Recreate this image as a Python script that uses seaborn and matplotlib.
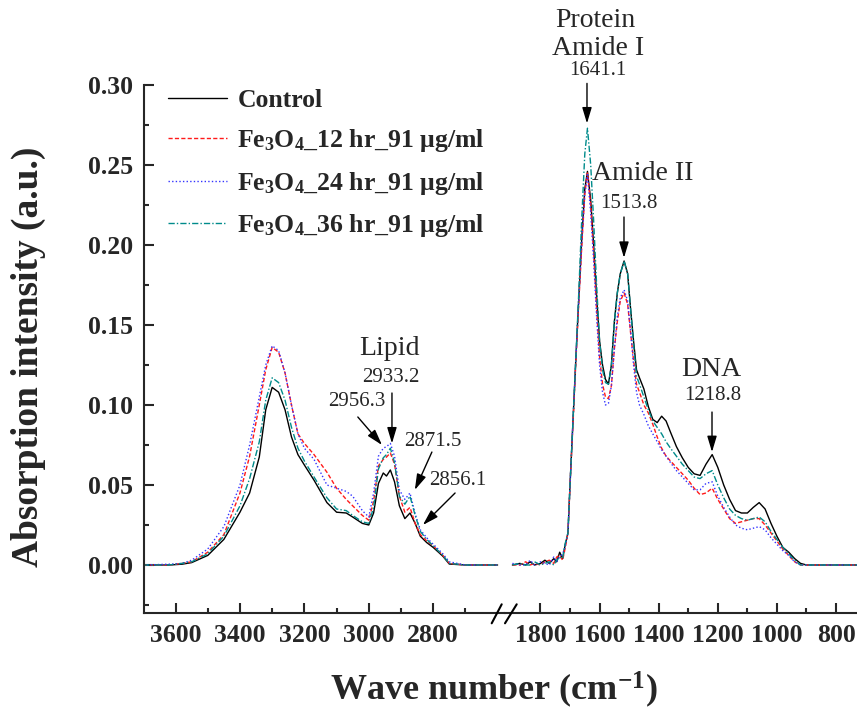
import pandas as pd
import seaborn as sns
import matplotlib.pyplot as plt
from matplotlib.lines import Line2D

# Data: FTIR spectra, two wavenumber windows (high / low region)
samples = ['Control', 'Fe3O4 12 hr', 'Fe3O4 24 hr', 'Fe3O4 36 hr']
legend_labels = ['Control',
                 'Fe$_{3}$O$_{4}$_12 hr_91 \u03bcg/ml',
                 'Fe$_{3}$O$_{4}$_24 hr_91 \u03bcg/ml',
                 'Fe$_{3}$O$_{4}$_36 hr_91 \u03bcg/ml']

wn_left = [3700, 3620, 3580, 3550, 3500, 3450, 3400, 3370, 3340, 3320,
           3300, 3280, 3260, 3240, 3220, 3200, 3170, 3130, 3100, 3070,
           3050, 3020, 3000, 2985, 2970, 2955, 2945, 2933, 2920, 2905,
           2888, 2872, 2856, 2840, 2820, 2800, 2770, 2750, 2700, 2600]
ctrl_left = [0, 0, 0.0005, 0.0015, 0.006, 0.016, 0.033, 0.045, 0.0675, 0.097,
             0.111, 0.108, 0.097, 0.080, 0.069, 0.0625, 0.053, 0.039, 0.033, 0.0325,
             0.030, 0.026, 0.025, 0.0325, 0.051, 0.0575, 0.0556, 0.0594, 0.052, 0.037,
             0.029, 0.0325, 0.026, 0.018, 0.014, 0.011, 0.0055, 0.0006, 0, 0]
fe12_left = [0, 0, 0.001, 0.002, 0.008, 0.019, 0.045, 0.068, 0.100, 0.122,
             0.136, 0.133, 0.120, 0.100, 0.082, 0.076, 0.069, 0.058, 0.048, 0.041,
             0.037, 0.031, 0.028, 0.040, 0.062, 0.066, 0.0675, 0.070, 0.063, 0.043,
             0.033, 0.036, 0.026, 0.019, 0.015, 0.012, 0.006, 0.001, 0, 0]
fe24_left = [0, 0.0005, 0.001, 0.003, 0.010, 0.024, 0.050, 0.075, 0.105, 0.125,
             0.137, 0.134, 0.120, 0.100, 0.082, 0.073, 0.066, 0.050, 0.048, 0.046,
             0.043, 0.034, 0.030, 0.045, 0.068, 0.073, 0.074, 0.076, 0.068, 0.047,
             0.041, 0.045, 0.032, 0.022, 0.017, 0.013, 0.007, 0.002, 0, 0]
fe36_left = [0, 0, 0.001, 0.002, 0.007, 0.018, 0.037, 0.054, 0.077, 0.103,
             0.117, 0.114, 0.103, 0.086, 0.073, 0.065, 0.055, 0.042, 0.035, 0.034,
             0.031, 0.027, 0.026, 0.036, 0.060, 0.067, 0.069, 0.073, 0.064, 0.043,
             0.038, 0.043, 0.031, 0.021, 0.016, 0.012, 0.006, 0.001, 0, 0]

wn_right = [1895, 1870, 1850, 1835, 1820, 1800, 1785, 1770, 1755, 1745,
            1735, 1725, 1717, 1707, 1700, 1690, 1680, 1670, 1660, 1650,
            1641, 1630, 1620, 1610, 1600, 1590, 1580, 1570, 1560, 1550,
            1540, 1530, 1517, 1505, 1495, 1485, 1475, 1465, 1450, 1435,
            1420, 1405, 1390, 1375, 1360, 1340, 1320, 1300, 1280, 1260,
            1240, 1219, 1200, 1180, 1160, 1140, 1120, 1100, 1080, 1060,
            1040, 1020, 1000, 980, 960, 940, 920, 900, 850, 730]
ctrl_right = [0, 0.001, 0, 0.002, 0, 0.001, 0.003, 0.001, 0.004, 0.002,
              0.008, 0.004, 0.012, 0.02, 0.05, 0.09, 0.13, 0.168, 0.205, 0.235,
              0.246, 0.228, 0.2, 0.168, 0.14, 0.125, 0.116, 0.113, 0.125, 0.152,
              0.17, 0.182, 0.19, 0.182, 0.16, 0.14, 0.122, 0.117, 0.11, 0.099,
              0.091, 0.089, 0.093, 0.09, 0.083, 0.074, 0.067, 0.061, 0.057, 0.056,
              0.063, 0.069, 0.061, 0.05, 0.041, 0.034, 0.0325, 0.0325, 0.036, 0.039,
              0.035, 0.026, 0.018, 0.011, 0.008, 0.004, 0.001, 0, 0, 0]
fe12_right = [0, 0, 0.002, 0, 0.001, 0, 0.002, 0.003, 0.001, 0.005,
              0.006, 0.003, 0.010, 0.02, 0.05, 0.088, 0.128, 0.165, 0.2, 0.232,
              0.245, 0.225, 0.195, 0.16, 0.13, 0.113, 0.105, 0.104, 0.112, 0.135,
              0.152, 0.165, 0.17, 0.163, 0.145, 0.128, 0.113, 0.108, 0.100, 0.095,
              0.088, 0.080, 0.073, 0.068, 0.065, 0.061, 0.057, 0.053, 0.048, 0.044,
              0.045, 0.048, 0.041, 0.035, 0.029, 0.026, 0.027, 0.028, 0.029, 0.029,
              0.025, 0.020, 0.015, 0.010, 0.006, 0.002, 0, 0, 0, 0]
fe24_right = [0.001, 0, 0, 0.003, 0, 0.002, 0.001, 0, 0.005, 0.002,
              0.005, 0.007, 0.011, 0.02, 0.05, 0.09, 0.13, 0.167, 0.203, 0.232,
              0.244, 0.22, 0.19, 0.155, 0.125, 0.108, 0.100, 0.101, 0.112, 0.135,
              0.155, 0.167, 0.172, 0.165, 0.146, 0.125, 0.108, 0.100, 0.094, 0.087,
              0.082, 0.077, 0.072, 0.068, 0.064, 0.059, 0.055, 0.051, 0.047, 0.047,
              0.051, 0.052, 0.043, 0.036, 0.030, 0.025, 0.023, 0.022, 0.023, 0.024,
              0.022, 0.017, 0.013, 0.009, 0.006, 0.002, 0, 0, 0, 0]
fe36_right = [0, 0.001, 0, 0, 0.002, 0, 0.001, 0.002, 0, 0.003,
              0.005, 0.004, 0.013, 0.02, 0.05, 0.09, 0.13, 0.172, 0.218, 0.257,
              0.273, 0.25, 0.215, 0.175, 0.14, 0.122, 0.114, 0.113, 0.125, 0.152,
              0.17, 0.182, 0.19, 0.182, 0.16, 0.138, 0.118, 0.113, 0.105, 0.097,
              0.090, 0.086, 0.082, 0.077, 0.073, 0.068, 0.063, 0.059, 0.055, 0.054,
              0.057, 0.059, 0.050, 0.042, 0.035, 0.031, 0.029, 0.028, 0.029, 0.030,
              0.027, 0.021, 0.016, 0.011, 0.007, 0.003, 0, 0, 0, 0]

left_ticks = [3600, 3400, 3200, 3000, 2800]
right_ticks = [1800, 1600, 1400, 1200, 1000, 800]
y_ticks = [0.00, 0.05, 0.10, 0.15, 0.20, 0.25, 0.30]


def long_form(wn, series):
    frames = [pd.DataFrame({'wn': wn, 'absorb': vals, 'sample': name})
              for name, vals in zip(samples, series)]
    return pd.concat(frames, ignore_index=True)


df_left = long_form(wn_left, [ctrl_left, fe12_left, fe24_left, fe36_left])
df_right = long_form(wn_right, [ctrl_right, fe12_right, fe24_right, fe36_right])

# Styling
sns.set_style('ticks')
plt.rcParams['font.family'] = ['Liberation Serif', 'DejaVu Serif']
plt.rcParams['font.weight'] = 'bold'
plt.rcParams['mathtext.fontset'] = 'custom'
plt.rcParams['mathtext.rm'] = 'Liberation Serif:bold'
plt.rcParams['mathtext.it'] = 'Liberation Serif:italic:bold'
plt.rcParams['mathtext.bf'] = 'Liberation Serif:bold'

palette = {'Control': 'black', 'Fe3O4 12 hr': '#ff1a1a',
           'Fe3O4 24 hr': '#3333ff', 'Fe3O4 36 hr': '#008b8b'}
dashes = {'Control': '', 'Fe3O4 12 hr': (3, 1.6),
          'Fe3O4 24 hr': (1, 1.6), 'Fe3O4 36 hr': (4.5, 1.5, 1, 1.5)}

fig = plt.figure(figsize=(8.57, 7.15), dpi=100)
W, H = 857, 715
ax_l = fig.add_axes([144 / W, 1 - 613 / H, (505 - 144) / W, (613 - 85) / H])
ax_r = fig.add_axes([505 / W, 1 - 613 / H, (857 - 505) / W, (613 - 85) / H],
                    sharey=ax_l)

for ax, df in [(ax_l, df_left), (ax_r, df_right)]:
    sns.lineplot(data=df, x='wn', y='absorb', hue='sample', style='sample',
                 hue_order=samples, style_order=samples, palette=palette,
                 dashes=dashes, estimator=None, sort=False, legend=False,
                 lw=1.0, ax=ax)
    ax.set_xlabel('')
    ax.set_ylabel('')
    for side in ['top', 'right', 'left', 'bottom']:
        ax.spines[side].set_linewidth(1.5)
    ax.spines['top'].set_visible(False)
    ax.spines['right'].set_visible(False)
    ax.tick_params(which='both', direction='in', width=1.5, labelsize=18.5, pad=8)
    ax.tick_params(which='major', length=7.5)
    ax.tick_params(which='minor', length=3.5)

ax_l.set_xlim(3698, 2577)
ax_r.set_xlim(1920, 729)
ax_l.set_ylim(-0.03, 0.30)
ax_l.set_xticks(left_ticks)
ax_l.set_xticks([t - 100 for t in left_ticks], minor=True)
ax_r.set_xticks(right_ticks)
ax_r.set_xticks([t + 100 for t in right_ticks[1:]], minor=True)
ax_l.set_yticks(y_ticks)
ax_l.set_yticks([t - 0.025 for t in y_ticks], minor=True)
ax_l.set_yticklabels(['%.2f' % t for t in y_ticks])
ax_r.spines['left'].set_visible(False)
ax_r.tick_params(axis='y', which='both', left=False, labelleft=False)

# Axis titles
fig.text(28 / W, 1 - 357 / H, 'Absorption intensity (a.u.)', rotation=90,
         ha='center', va='center', fontsize=27, fontweight='bold')
fig.text(494 / W, 1 - 690 / H, 'Wave number (cm$^{-1}$)',
         ha='center', va='center', fontsize=26, fontweight='bold')

# Axis break marks
for x0, x1 in [(491.7, 501.7), (505, 516.7)]:
    fig.add_artist(Line2D([x0 / W, x1 / W], [1 - 623.3 / H, 1 - 604.3 / H],
                          color='black', lw=1.5))

# Legend
handles = ax_l.get_lines()[:4]
ax_l.legend(handles, legend_labels, loc='upper left',
            bbox_to_anchor=(168 / W, 1 - 89 / H), bbox_transform=fig.transFigure,
            frameon=False, fontsize=18.5, handlelength=2.3, handletextpad=0.4,
            labelspacing=0.6, borderpad=0, borderaxespad=0)

# Peak annotations
arrow_kw = dict(arrowstyle='-|>,head_length=0.6,head_width=0.18', color='black',
                lw=1.0, shrinkA=0, shrinkB=0, mutation_scale=16)
big = dict(fontsize=20, fontweight='normal', ha='center', va='center')
small = dict(fontsize=15, fontweight='normal', ha='center', va='center')

ax_r.text(1615, 0.3406, 'Protein', **big)
ax_r.text(1605, 0.323, 'Amide I', **big)
ax_r.text(1605, 0.309, '1641.1', **small)
ax_r.annotate('', xy=(1642.6, 0.276), xytext=(1642.6, 0.301),
              arrowprops=arrow_kw, annotation_clip=False)
ax_r.text(1453, 0.245, 'Amide II', **big)
ax_r.text(1500, 0.226, '1513.8', **small)
ax_r.annotate('', xy=(1517.4, 0.192), xytext=(1517.4, 0.2175),
              arrowprops=arrow_kw, annotation_clip=False)
ax_r.text(1223, 0.1219, 'DNA', **big)
ax_r.text(1216, 0.106, '1218.8', **small)
ax_r.annotate('', xy=(1219.6, 0.0706), xytext=(1219.6, 0.0956),
              arrowprops=arrow_kw, annotation_clip=False)

ax_l.text(2937, 0.135, 'Lipid', **big)
ax_l.text(2931, 0.1175, '2933.2', **small)
ax_l.annotate('', xy=(2928, 0.076), xytext=(2928, 0.1075),
              arrowprops=arrow_kw, annotation_clip=False)
ax_l.text(3037, 0.102, '2956.3', **small)
ax_l.annotate('', xy=(2959, 0.075), xytext=(3034, 0.0925),
              arrowprops=arrow_kw, annotation_clip=False)
ax_l.text(2801, 0.0769, '2871.5', **small)
ax_l.annotate('', xy=(2857, 0.0469), xytext=(2804, 0.0706),
              arrowprops=arrow_kw, annotation_clip=False)
ax_l.text(2723, 0.053, '2856.1', **small)
ax_l.annotate('', xy=(2832, 0.025), xytext=(2732, 0.045),
              arrowprops=arrow_kw, annotation_clip=False)

fig.savefig('out.png', dpi=100)
